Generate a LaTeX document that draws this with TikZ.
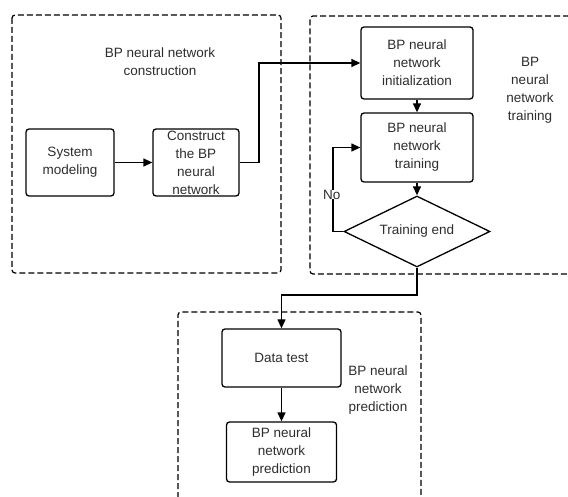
\documentclass[tikz,border=0pt]{standalone}
\usepackage{fontspec}
\setmainfont{Liberation Sans}
\usetikzlibrary{shapes.geometric,arrows.meta}
\definecolor{txt}{RGB}{45,45,45}
\begin{document}
\begin{tikzpicture}[x=1pt,y=-1pt,
  every node/.style={font=\fontsize{13.5}{18}\selectfont, text=txt, align=center},
  procbox/.style={draw, line width=1.3pt, rounded corners=3pt, inner sep=0pt},
  decbox/.style={draw, line width=1.3pt, shape=diamond, aspect=2, inner sep=0pt, minimum width=146pt, minimum height=71pt},
  flow/.style={line width=1.3pt, -{Triangle[length=9pt,width=8pt]}},
  region/.style={line width=1.2pt, dash pattern=on 6pt off 3pt, rounded corners=3pt},
  tag/.style={inner sep=0pt}]
\useasboundingbox (0,0) rectangle (568,497);
% dashed regions
\draw[region] (12,15) rectangle (281,273);
\draw[region] (569,16) -- (310,16) -- (310,274) -- (569,274);
\draw[region] (178,498) -- (178,312) -- (421,312) -- (421,498);
% labels
\node[tag] (lc) at (160,62) {BP neural network\\construction};
\node[tag] (lt) at (530,90) {BP\\neural\\network\\training};
\node[tag] (lp) at (378,390) {BP neural\\network\\prediction};
% nodes
\node[procbox, minimum width=88pt, minimum height=67pt] (sys) at (70,162.5) {System\\modeling};
\node[procbox, minimum width=86pt, minimum height=67pt] (con) at (196,162.5) {Construct\\the BP\\neural\\network};
\node[procbox, minimum width=112pt, minimum height=72pt] (init) at (417,63) {BP neural\\network\\initialization};
\node[procbox, minimum width=112pt, minimum height=69pt] (train) at (417,147.5) {BP neural\\network\\training};
\node[decbox] (end) at (417,231.5) {Training end};
\node[procbox, minimum width=119pt, minimum height=58pt] (data) at (281.5,358) {Data test};
\node[procbox, minimum width=110pt, minimum height=60pt] (pred) at (281.5,452) {BP neural\\network\\prediction};
\coordinate (up) at (259,162.5);
\coordinate (loop) at (333,231.5);
\coordinate (down) at (417,295);
% connectors
\draw[flow] (sys) -- (con);
\draw[flow] (con.east) -- (up) |- (init.west);
\draw[flow] (init) -- (train);
\draw[flow] (train) -- (end);
\draw[flow] (end.west) -- (loop) |- (train.west) node[tag, pos=0.22, left=-8pt, fill=white] (no) {No};
\draw[flow] (end.south) -- (down) -| (data.north);
\draw[flow] (data) -- (pred);
\end{tikzpicture}
\end{document}
